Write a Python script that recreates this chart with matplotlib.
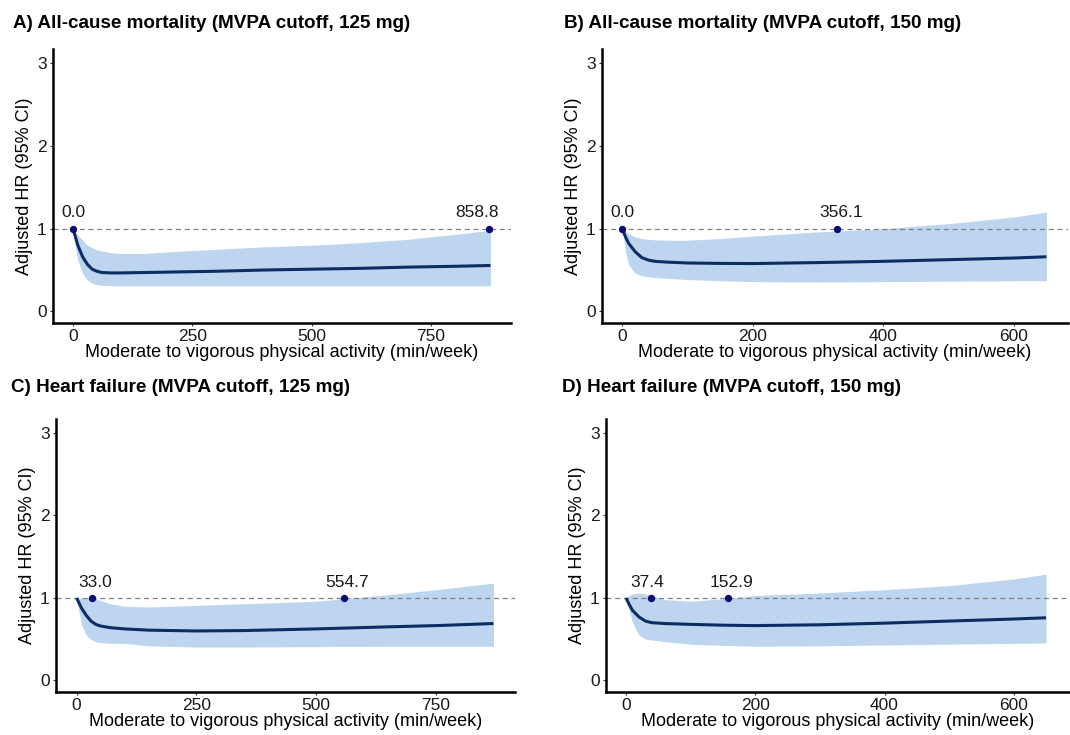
import matplotlib
matplotlib.use("Agg")
import matplotlib.pyplot as plt
import numpy as np

plt.rcParams['font.family'] = ['Liberation Sans', 'DejaVu Sans']

# ---- data ----
titles = ["A) All-cause mortality (MVPA cutoff, 125 mg)",
          "B) All-cause mortality (MVPA cutoff, 150 mg)",
          "C) Heart failure (MVPA cutoff, 125 mg)",
          "D) Heart failure (MVPA cutoff, 150 mg)"]

a_x = [0, 5, 10, 20, 30, 40, 50, 60, 80, 100, 150, 200, 300, 400, 500, 600, 700, 800, 875]
a_hr = [1.0, 0.90, 0.80, 0.66, 0.57, 0.51, 0.485, 0.47, 0.465, 0.465, 0.47, 0.475, 0.485, 0.50, 0.51, 0.52, 0.535, 0.545, 0.555]
a_lo = [1.0, 0.78, 0.62, 0.46, 0.38, 0.34, 0.325, 0.315, 0.31, 0.31, 0.31, 0.31, 0.31, 0.31, 0.31, 0.31, 0.31, 0.31, 0.31]
a_hi = [1.0, 0.96, 0.92, 0.86, 0.80, 0.77, 0.745, 0.73, 0.71, 0.70, 0.70, 0.72, 0.75, 0.78, 0.80, 0.83, 0.87, 0.93, 0.98]
a_pts = [0, 872]
a_lab = ["0.0", "858.8"]

b_x = [0, 5, 10, 20, 30, 40, 50, 70, 100, 150, 200, 300, 400, 500, 600, 650]
b_hr = [1.0, 0.90, 0.82, 0.72, 0.65, 0.62, 0.605, 0.595, 0.585, 0.58, 0.578, 0.59, 0.605, 0.625, 0.645, 0.66]
b_lo = [1.0, 0.72, 0.56, 0.46, 0.43, 0.42, 0.41, 0.40, 0.385, 0.37, 0.36, 0.355, 0.36, 0.365, 0.37, 0.37]
b_hi = [1.0, 0.97, 0.94, 0.90, 0.88, 0.87, 0.865, 0.86, 0.86, 0.88, 0.91, 0.96, 1.0, 1.06, 1.14, 1.2]
b_pts = [0, 329]
b_lab = ["0.0", "356.1"]

c_x = [0, 10, 20, 30, 40, 50, 70, 100, 150, 250, 350, 500, 650, 750, 870]
c_hr = [1.0, 0.88, 0.79, 0.72, 0.68, 0.66, 0.64, 0.625, 0.61, 0.60, 0.605, 0.625, 0.65, 0.665, 0.69]
c_lo = [1.0, 0.68, 0.55, 0.50, 0.47, 0.46, 0.45, 0.45, 0.42, 0.405, 0.405, 0.41, 0.415, 0.415, 0.415]
c_hi = [1.0, 1.0, 1.0, 1.0, 0.99, 0.97, 0.93, 0.90, 0.89, 0.91, 0.93, 0.96, 1.04, 1.10, 1.18]
c_pts = [33, 559]
c_lab = ["33.0", "554.7"]

d_x = [0, 5, 10, 20, 30, 40, 60, 100, 150, 200, 300, 400, 500, 600, 650]
d_hr = [1.0, 0.92, 0.85, 0.77, 0.72, 0.70, 0.69, 0.68, 0.67, 0.665, 0.675, 0.695, 0.72, 0.745, 0.76]
d_lo = [1.0, 0.85, 0.70, 0.55, 0.50, 0.49, 0.47, 0.44, 0.425, 0.415, 0.42, 0.43, 0.44, 0.45, 0.455]
d_hi = [1.0, 1.03, 1.05, 1.06, 1.05, 1.03, 0.98, 0.96, 0.99, 1.03, 1.06, 1.10, 1.15, 1.23, 1.29]
d_pts = [38, 158]
d_lab = ["37.4", "152.9"]

xticks_125 = [0, 250, 500, 750]
xticks_150 = [0, 200, 400, 600]
yticks = [0, 1, 2, 3]

W, H = 1070, 735
fig = plt.figure(figsize=(W / 100, H / 100), dpi=100)

ribbon_c = "#bdd5ee"
line_c = "#0b2d63"
pt_c = "#0a0a78"


def px_axes(l, t, r, b):
    return fig.add_axes([l / W, 1 - b / H, (r - l) / W, (b - t) / H])


panels = [
    (a_x, a_hr, a_lo, a_hi, a_pts, a_lab, xticks_125, (-42, 918), (53, 49, 511, 323), (13, 23), [0, -12]),
    (b_x, b_hr, b_lo, b_hi, b_pts, b_lab, xticks_150, (-31, 683), (602, 49, 1068, 323), (564, 23), [0, 4]),
    (c_x, c_hr, c_lo, c_hi, c_pts, c_lab, xticks_125, (-43, 915), (56, 419, 515, 692), (11, 387), [3, 3]),
    (d_x, d_hr, d_lo, d_hi, d_pts, d_lab, xticks_150, (-31, 687), (606, 419, 1070, 692), (562, 387), [-3, 3]),
]

for i, (x, hr, lo, hi, pts, labs, xt, xl, box, tpos, offs) in enumerate(panels):
    ax = px_axes(*box)
    ax.fill_between(x, lo, hi, color=ribbon_c, lw=0, zorder=1)
    ax.axhline(1, color="#808080", lw=0.9, ls=(0, (4, 3)), zorder=2)
    ax.plot(x, hr, color=line_c, lw=2.2, zorder=3, solid_capstyle="butt")
    ax.scatter(pts, [1] * len(pts), s=28, color=pt_c, zorder=4, lw=0)
    for p, lab, o in zip(pts, labs, offs):
        ax.annotate(lab, (p, 1), xytext=(o * 0.72, 6), textcoords="offset points",
                    ha="center", va="bottom", fontsize=12.5, color="#1a1a1a")
    ax.set_xlim(*xl)
    ax.set_ylim(-0.14, 3.17)
    ax.set_xticks(xt)
    ax.set_yticks(yticks)
    for s in ["top", "right"]:
        ax.spines[s].set_visible(False)
    for s in ["left", "bottom"]:
        ax.spines[s].set_linewidth(1.8)
        ax.spines[s].set_color("black")
    ax.tick_params(length=2.5, width=0.8, color="#333333", labelsize=12.5,
                   labelcolor="#1a1a1a", pad=2)
    ax.set_xlabel("Moderate to vigorous physical activity (min/week)", fontsize=13, labelpad=0)
    ax.set_ylabel("Adjusted HR (95% CI)", fontsize=13, labelpad=3)
    ax.set_facecolor("none")
    fig.text(tpos[0] / W, 1 - tpos[1] / H, titles[i], fontsize=13.6, fontweight="bold",
             ha="left", va="center")

fig.savefig("out.png", dpi=100, facecolor="white")
